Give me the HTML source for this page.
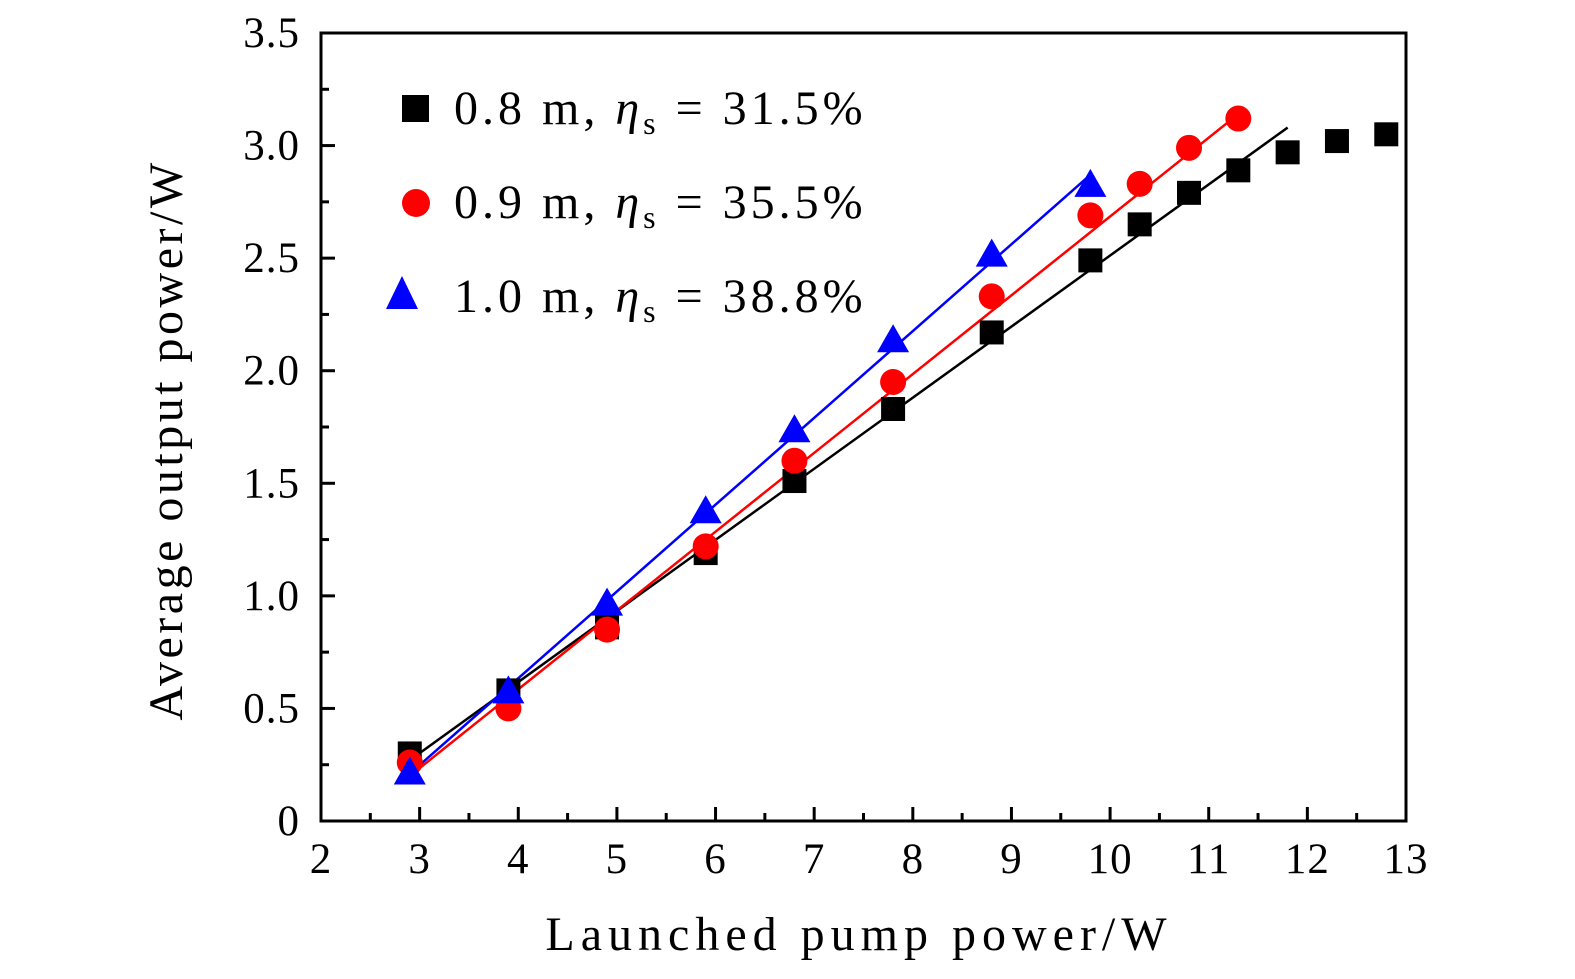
<!DOCTYPE html>
<html><head><meta charset="utf-8"><style>
body{margin:0;background:#fff}
svg text{font-family:"Liberation Serif",serif;fill:#000}
</style></head><body>
<svg id="c" width="1575" height="974" viewBox="0 0 1575 974" xmlns="http://www.w3.org/2000/svg">
<rect width="1575" height="974" fill="#fff"/>
<g id="plot"></g>
</svg>
<script>
const xTicks=[2,3,4,5,6,7,8,9,10,11,12,13];
const yTicks=[0,0.5,1.0,1.5,2.0,2.5,3.0,3.5];
const yTickLabels=["0","0.5","1.0","1.5","2.0","2.5","3.0","3.5"];
const blackX=[2.9,3.9,4.9,5.9,6.8,7.8,8.8,9.8,10.3,10.8,11.3,11.8,12.3,12.8];
const blackY=[0.30,0.58,0.86,1.19,1.51,1.83,2.17,2.49,2.65,2.79,2.89,2.97,3.02,3.05];
const redX=[2.9,3.9,4.9,5.9,6.8,7.8,8.8,9.8,10.3,10.8,11.3];
const redY=[0.26,0.50,0.85,1.22,1.60,1.95,2.33,2.69,2.83,2.99,3.12];
const blueX=[2.9,3.9,4.9,5.9,6.8,7.8,8.8,9.8];
const blueY=[0.22,0.58,0.97,1.38,1.74,2.14,2.52,2.83];
const fitBlack=[[2.9,0.27],[11.8,3.08]];
const fitRed=[[2.9,0.20],[11.3,3.14]];
const fitBlue=[[2.9,0.21],[9.8,2.87]];
const L=321,R=1406,T=33,B=821;
const sx=v=>L+(v-2)/(13-2)*(R-L);
const sy=v=>B-(v/3.5)*(B-T);
const NS="http://www.w3.org/2000/svg";
const g=document.getElementById('plot');
function mk(t,a){const e=document.createElementNS(NS,t);for(const k in a)e.setAttribute(k,a[k]);g.appendChild(e);return e;}
let e=mk('rect',{x:L,y:T,width:R-L,height:B-T,fill:'none',stroke:'#000','stroke-width':3});


xTicks.forEach((v,i)=>{
 let t=mk('line',{x1:sx(v),x2:sx(v),y1:B,y2:B-14,stroke:'#000','stroke-width':3});
 
 
 if(i<xTicks.length-1){let m=mk('line',{x1:sx(v+0.5),x2:sx(v+0.5),y1:B,y2:B-8,stroke:'#000','stroke-width':3});
 
 }
 let l=mk('text',{x:sx(v),y:873,'text-anchor':'middle','font-size':43,'letter-spacing':'1'});l.textContent=v;
 
 
});
yTicks.forEach((v,i)=>{
 let t=mk('line',{x1:L,x2:L+14,y1:sy(v),y2:sy(v),stroke:'#000','stroke-width':3});
 
 
 if(i<yTicks.length-1){let m=mk('line',{x1:L,x2:L+8,y1:sy(v+0.25),y2:sy(v+0.25),stroke:'#000','stroke-width':3});
 
 }
 let l=mk('text',{x:300,y:sy(v)+14,'text-anchor':'end','font-size':43,'letter-spacing':'1'});l.textContent=yTickLabels[i];
 
 
});
[[fitBlack,'#000'],[fitRed,'#f00'],[fitBlue,'#00f']].forEach(([f,c])=>{
 let l=mk('line',{x1:sx(f[0][0]),y1:sy(f[0][1]),x2:sx(f[1][0]),y2:sy(f[1][1]),stroke:c,'stroke-width':2.5});
 
 
});
blackX.forEach((x,i)=>{let m=mk('rect',{x:sx(x)-12,y:sy(blackY[i])-12,width:24,height:24,fill:'#000'});
 
 });
redX.forEach((x,i)=>{let m=mk('circle',{cx:sx(x),cy:sy(redY[i]),r:13,fill:'#f00'});
 
 });
blueX.forEach((x,i)=>{const cx=sx(x),cy=sy(blueY[i]);let m=mk('polygon',{points:`${cx-16},${cy+13} ${cx+16},${cy+13} ${cx},${cy-15}`,fill:'#00f'});
 
 });
const leg=[['0.8 m,','31.5%',108],['0.9 m,','35.5%',202],['1.0 m,','38.8%',296]];
let s=mk('rect',{x:402,y:95,width:27,height:27,fill:'#000'});
let c2=mk('circle',{cx:416,cy:203,r:14,fill:'#f00'});
let p=mk('polygon',{points:'386,309 418,309 402,276',fill:'#00f'});
leg.forEach(r=>{
 let t=mk('text',{x:454,y:r[2]+16,'font-size':48,'letter-spacing':'4'});
 t.innerHTML=`${r[0]}  <tspan font-style="italic">η</tspan><tspan font-size="32" dy="10">s</tspan><tspan dy="-10"> = ${r[1]}</tspan>`;
 t.setAttribute('xml:space','preserve');
 
 
});
let xt=mk('text',{x:859,y:950,'text-anchor':'middle','font-size':48,'letter-spacing':'6'});xt.textContent='Launched pump power/W';


let yt=mk('text',{x:0,y:0,'text-anchor':'middle','font-size':48,'letter-spacing':'3.5',transform:'translate(182,440) rotate(-90)'});yt.textContent='Average output power/W';


</script>
</body></html>
